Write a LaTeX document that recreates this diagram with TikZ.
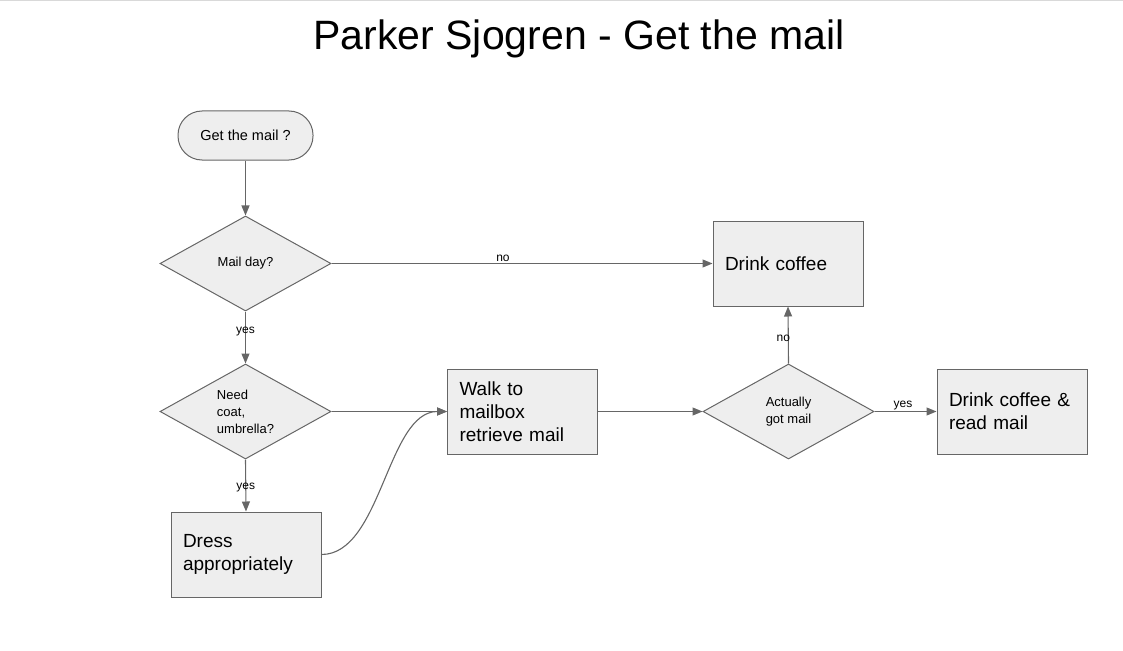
\documentclass[tikz,border=0pt]{standalone}
\usepackage{fontspec}
\setmainfont{Liberation Sans}
\usetikzlibrary{shapes.geometric,arrows.meta}
\definecolor{edgegray}{HTML}{666666}
\definecolor{boxfill}{HTML}{EEEEEE}
\definecolor{rulegray}{HTML}{D9D9D9}

\begin{document}
\begin{tikzpicture}[x=1pt, y=-1pt,
    box/.style={rectangle, draw=edgegray, fill=boxfill, line width=1pt,
                minimum width=150pt, minimum height=85pt, text width=126pt,
                inner sep=12pt, align=left, font=\fontsize{19}{23}\selectfont},
    decision/.style={diamond, draw=edgegray, fill=boxfill, line width=1pt,
                aspect=1.8, minimum width=171pt, minimum height=95pt,
                inner sep=0pt, font=\fontsize{13}{17}\selectfont},
    lbl/.style={font=\fontsize{12}{14}\selectfont, inner sep=1pt},
    arr/.style={draw=edgegray, line width=1.1pt, -{Triangle[length=10pt,width=8pt]}}]
    \useasboundingbox (0,0) rectangle (1123,650);
    \draw[rulegray, line width=2pt] (0,0.5) -- (1123,0.5);
    \node (title) at (579,39) {\fontsize{41}{48}\selectfont Parker Sjogren - Get the mail};

    \node[rectangle, rounded corners=24pt, draw=edgegray, fill=boxfill, line width=1pt,
          minimum width=135pt, minimum height=49pt, font=\fontsize{14.5}{17}\selectfont]
          (start) at (245.5,135.5) {Get the mail ?};
    \node[decision] (d1) at (245.5,263.5) {Mail day?};
    \node[decision, align=left] (d2) at (245.5,411.5) {Need\\coat,\\umbrella?};
    \node[box] (dress)  at (246,554.5)  {Dress\\appropriately};
    \node[box] (walk)   at (522.5,411.5) {Walk to\\mailbox\\retrieve mail};
    \node[decision, align=center] (d3) at (788.5,411.5) {Actually\\got mail};
    \node[box] (coffee) at (788,263.5)  {Drink coffee};
    \node[box] (final)  at (1012,411.5) {Drink coffee \&\\read mail};

    \draw[arr] (start) -- (d1);
    \draw[arr] (d1.east) -- node[lbl, above, pos=0.45] {no} (coffee.west);
    \draw[arr] (d1.south) -- node[lbl, pos=0.38] {yes} (d2.north);
    \draw[arr] (d2.south) -- node[lbl, pos=0.53] {yes} (dress.north);
    \draw[arr] (d2.east) -- (walk.west);
    \draw[arr] (dress.east) .. controls +(60,0) and +(-60,0) .. (walk.west);
    \draw[arr] (walk.east) -- (d3.west);
    \draw[arr] (d3.north) -- node[lbl, pos=0.45, xshift=-5pt] {no} (coffee.south);
    \draw[arr] (d3.east) -- node[lbl, above, pos=0.46] {yes} (final.west);
\end{tikzpicture}
\end{document}
